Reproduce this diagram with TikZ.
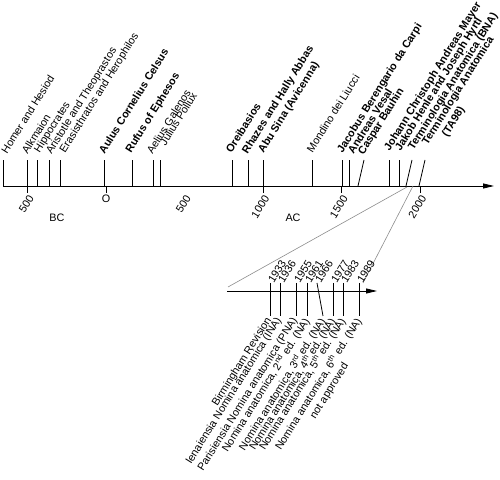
\documentclass[tikz,border=0pt]{standalone}
\usepackage{fontspec}
\setmainfont{Liberation Sans}
\usetikzlibrary{%
	arrows.meta,%
	calc%
}
\definecolor{zoomgray}{rgb}{0.55,0.55,0.55}

\begin{document}
\begin{tikzpicture}[x=1pt,y=1pt,
		font=\fontsize{10.8}{12.5}\selectfont,
		timeaxis/.style={line width=0.8pt, -{Triangle[length=11pt,width=5pt]}},
		tickline/.style={line width=0.8pt},
		eventlabel/.style={rotate=58, anchor=north west, align=left, inner sep=0.5pt, yshift=8.2pt},
		yearlabel/.style={rotate=58, anchor=north east, inner sep=1pt},
		zoomyear/.style={rotate=58, anchor=west, inner sep=1pt},
		nomlabel/.style={rotate=58, anchor=north east, align=center, inner sep=0.5pt, xshift=-2pt, yshift=5pt}
	]
	\useasboundingbox (0,0) rectangle (500,479);
	
	% main time line
	\coordinate (t-start) at (3,293);
	\coordinate (t-end) at (494,293);
	\draw[timeaxis] (t-start) -- (t-end);
	
	\foreach \xb/\xt/\lx/\ly/\txt [count=\i] in {
		3/3/6.5/324/{Homer and Hesiod},
		27/27/27/324/{Alkmaion},
		37/37/39/325/{Hippocrates},
		49/49/51/324/{Aristotle and Theoprastos},
		60/60/64.5/325/{Erasisthratos and Herophilos},
		104/104/104/324/{\textbf{Aulus Cornelius Celsus}},
		132/132/130.5/325/{\textbf{Rufus of Ephesos}},
		153/153/152/324/{Aelius Galenos},
		160/160/165/332/{Julius Pollux},
		232/232/231/325/{\textbf{Oreibasios}},
		248/248/247/324/{\textbf{Rhazes and Hally Abbas}},
		263/263/263/325/{\textbf{Abu Sina (Avicenna)}},
		312/312/312/325/{Mondino dei Liucci},
		342/342/342/325/{\textbf{Jacobus Berengario da Carpi}},
		349/349/353/324/{\textbf{Andreas Vesal}},
		358/364/363/323/{\textbf{Caspar Bauhin}},
		389/389/389/327/{\textbf{Johann Christoph Andreas Mayer}},
		399/399/400/327/{\textbf{Jakob Henle and Joseph Hyrtl}},
		406/412/413/328/{\textbf{Terminologia Anatomica (BNA)}},
		419/425/427/333/{\textbf{Terminologia Anatomica}\\\hspace*{1.6em}\textbf{(TA98)}}%
	}{
		\coordinate (ev\i-b) at (\xb,293);
		\coordinate (ev\i-t) at (\xt,319);
		\draw[tickline] (ev\i-b) -- (ev\i-t);
		\node[eventlabel] (ev\i) at (\lx,\ly) {\txt};
	}
	
	% scale below the line
	\foreach \x/\yr [count=\i] in {27.5/500, 263/1000, 341.5/1500, 420/2000}{
		\coordinate (yr\i-t) at (\x,293);
		\coordinate (yr\i-b) at (\x,286);
		\draw[tickline] (yr\i-t) -- (yr\i-b);
		\node[yearlabel] (yr\i) at (yr\i-b) {\yr};
	}
	\coordinate (yr0-t) at (106,293);
	\coordinate (yr0-b) at (106,286);
	\draw[tickline] (yr0-t) -- (yr0-b);
	\node[anchor=north, inner sep=1.5pt] (yr0) at (yr0-b) {O};
	\node[yearlabel] (yr500) at (184.5,286) {500};
	\node (bc) at (57,261) {BC};
	\node (ac) at (293,261) {AC};
	
	% zoomed part
	\coordinate (z-start) at (227,188);
	\coordinate (z-end) at (377,188);
	\draw[timeaxis] (z-start) -- (z-end);
	\coordinate (zoomA) at (407,292);
	\coordinate (zoomB) at (413,293);
	\coordinate (zoomL) at (228,192);
	\coordinate (zoomR) at (363,196);
	\draw[zoomgray, line width=0.6pt] (zoomA) -- (zoomL);
	\draw[zoomgray, line width=0.6pt] (zoomB) -- (zoomR);
	
	\foreach \xt/\xb/\yr/\txt [count=\i] in {
		270/270/1933/{Birmingham Revision},
		280/280/1936/{Ienaiensia Nomina anatomica (INA)},
		296/296/1955/{Parisiensia Nomina anatomica (PNA)},
		307/307/1961/{Nomina anatomica, 2\textsuperscript{nd} ed. (NA)},
		317/323/1966/{Nomina anatomica, 3\textsuperscript{rd} ed. (NA)},
		333/333/1977/{Nomina anatomica, 4\textsuperscript{th} ed. (NA)},
		343/343/1983/{Nomina anatomica, 5\textsuperscript{th} ed. (NA)},
		359/359/1989/{Nomina anatomica, 6\textsuperscript{th} ed. (NA)\\not approved}%
	}{
		\coordinate (na\i-t) at (\xt,196);
		\coordinate (na\i-b) at (\xb,163);
		\draw[tickline] (na\i-t) -- (na\i-b);
		\node[zoomyear] (nay\i) at (na\i-t) {\yr};
		\node[nomlabel] (na\i) at (na\i-b) {\txt};
	}
	
\end{tikzpicture}
\end{document}
